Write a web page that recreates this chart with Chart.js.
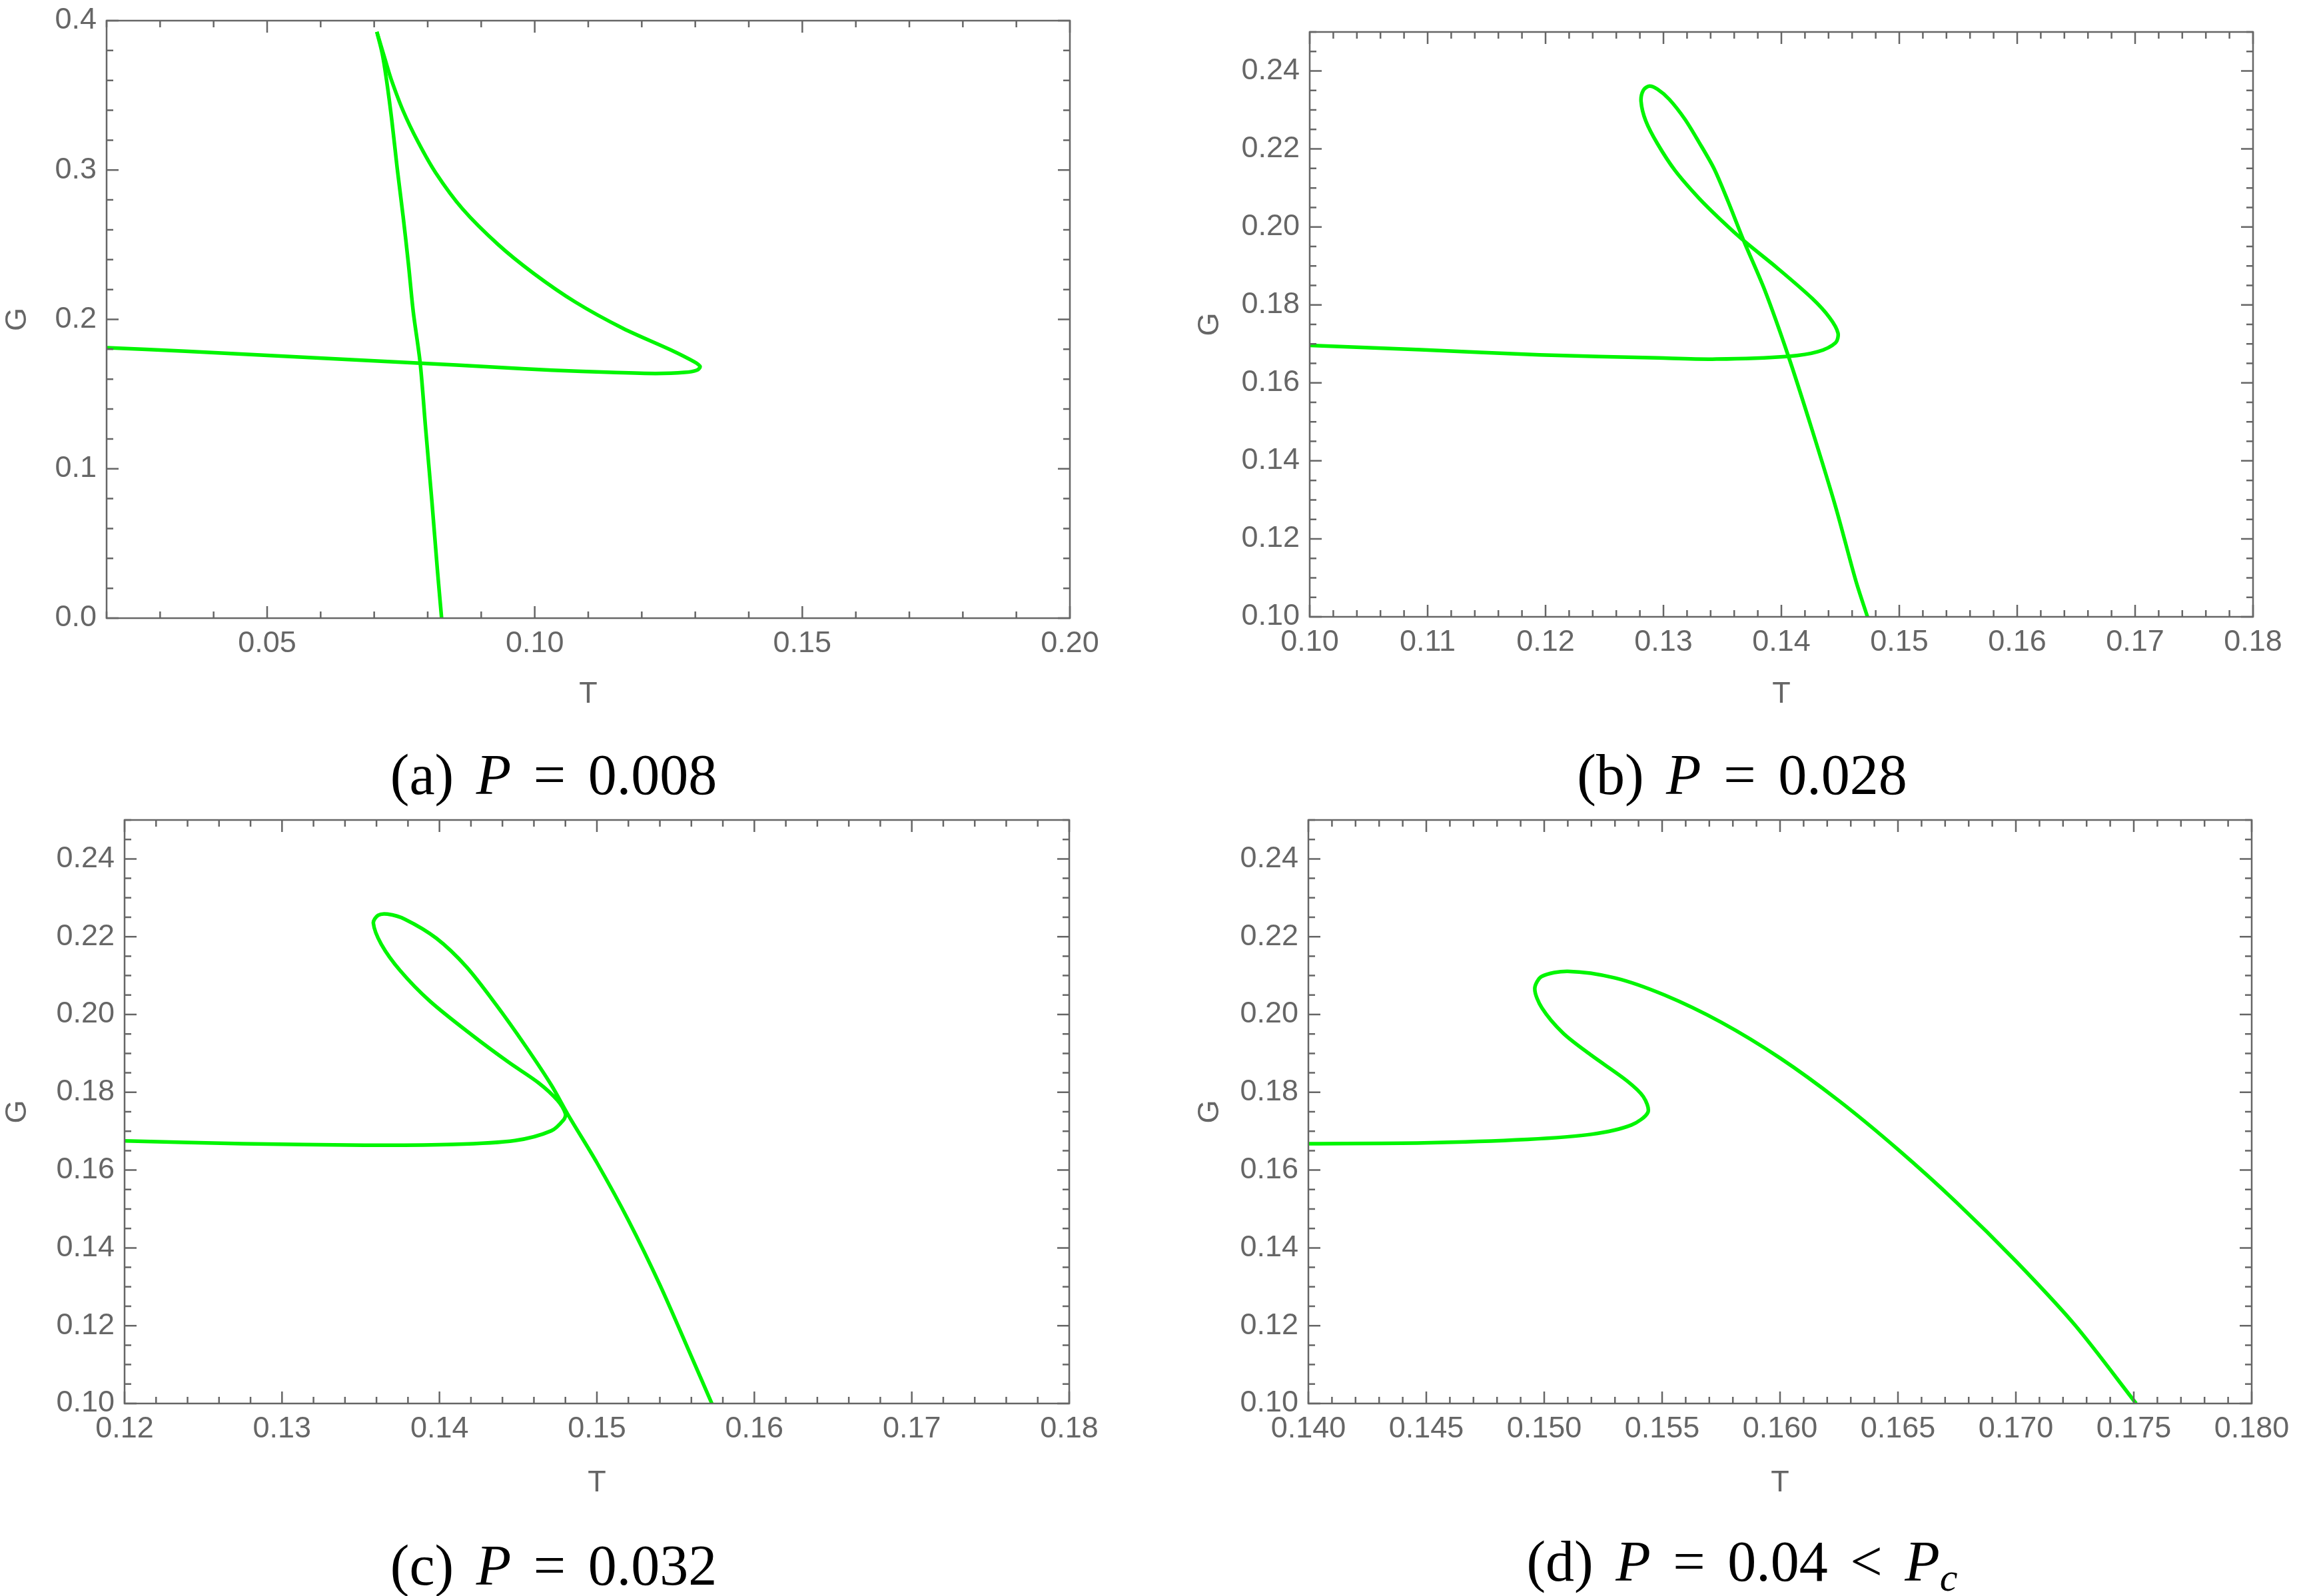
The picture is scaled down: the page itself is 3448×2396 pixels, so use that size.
<!DOCTYPE html>
<html>
<head>
<meta charset="utf-8">
<title>G vs T</title>
<script src="https://cdn.jsdelivr.net/npm/chart.js@4.4.1/dist/chart.umd.min.js"></script>
<style>
  html, body { margin: 0; padding: 0; background: #fff; }
  #page { position: relative; width: 3448px; height: 2396px; overflow: hidden; }
  #page canvas { position: absolute; }
  .cap {
    position: absolute;
    transform: translate(-50%, -50%);
    font-family: "Liberation Serif", "Times New Roman", serif;
    font-size: 86px;
    line-height: 1;
    white-space: nowrap;
    word-spacing: 12px;
    color: #000;
  }
  .cap sub { font-size: 0.7em; vertical-align: -0.25em; }
</style>
</head>
<body>
<div id="page">
  <canvas id="cA"></canvas>
  <canvas id="cB"></canvas>
  <canvas id="cC"></canvas>
  <canvas id="cD"></canvas>
  <div class="cap" style="left:831px;top:1163px">(a) <i>P</i> = 0.008</div>
  <div class="cap" style="left:2615px;top:1163px">(b) <i>P</i> = 0.028</div>
  <div class="cap" style="left:831px;top:2350px">(c) <i>P</i> = 0.032</div>
  <div class="cap" style="left:2615px;top:2350px">(d) <i>P</i> = 0.04 &lt; <i>P</i><sub><i>c</i></sub></div>
</div>
<script>
"use strict";

/* (a) P = 0.008 : horizontal branch + loop up to the cusp, then the steep branch */
var tA1 = [0.0200, 0.0347, 0.0506, 0.0664, 0.0786, 0.0921, 0.1032, 0.1143, 0.1226, 0.1280, 0.1303, 0.1309,
           0.1298, 0.1254, 0.1165, 0.1076, 0.0998, 0.0932, 0.0865, 0.0815, 0.0782, 0.0754, 0.0732, 0.0721,
           0.0705];
var gA1 = [0.1811, 0.1787, 0.1758, 0.1729, 0.1707, 0.1681, 0.1660, 0.1645, 0.1638, 0.1645, 0.1660, 0.1684,
           0.1716, 0.1796, 0.1940, 0.2116, 0.2308, 0.2500, 0.2740, 0.2981, 0.3188, 0.3397, 0.3605, 0.3733,
           0.3925];
var tA2 = [0.0705, 0.0715, 0.0723, 0.0733, 0.0743, 0.0754, 0.0764, 0.0773, 0.0786, 0.0796, 0.0808, 0.0818, 0.0826];
var gA2 = [0.3925, 0.3781, 0.3605, 0.3332, 0.3012, 0.2692, 0.2372, 0.2052, 0.1707, 0.1276, 0.0776, 0.0329, 0.0000];

/* (b) P = 0.028 */
var tB = [0.1000, 0.1094, 0.1195, 0.1295, 0.1345, 0.1406, 0.1431, 0.1446, 0.1448, 0.1441, 0.1426, 0.1396,
          0.1368, 0.1348, 0.1330, 0.1310, 0.1295, 0.1285, 0.1281, 0.1283, 0.1288, 0.1295, 0.1305, 0.1318,
          0.1330, 0.1343, 0.1355, 0.1368, 0.1386, 0.1406, 0.1426, 0.1446, 0.1463, 0.1473];
var gB = [0.1696, 0.1685, 0.1672, 0.1664, 0.1661, 0.1668, 0.1680, 0.1703, 0.1728, 0.1767, 0.1817, 0.1896,
          0.1965, 0.2020, 0.2074, 0.2144, 0.2213, 0.2272, 0.2322, 0.2351, 0.2361, 0.2353, 0.2327, 0.2277,
          0.2218, 0.2149, 0.2064, 0.1965, 0.1837, 0.1668, 0.1480, 0.1282, 0.1094, 0.1000];

/* (c) P = 0.032 */
var tC = [0.1200, 0.1275, 0.1352, 0.1409, 0.1448, 0.1471, 0.1479, 0.1480, 0.1475, 0.1463, 0.1444, 0.1421,
          0.1394, 0.1375, 0.1363, 0.1358, 0.1361, 0.1367, 0.1378, 0.1398, 0.1417, 0.1436, 0.1455, 0.1471,
          0.1482, 0.1500, 0.1520, 0.1540, 0.1560, 0.1573];
var gC = [0.1675, 0.1668, 0.1664, 0.1666, 0.1676, 0.1701, 0.1730, 0.1745, 0.1779, 0.1824, 0.1877, 0.1946,
          0.2034, 0.2113, 0.2181, 0.2235, 0.2255, 0.2258, 0.2245, 0.2196, 0.2123, 0.2025, 0.1917, 0.1819,
          0.1740, 0.1619, 0.1471, 0.1305, 0.1121, 0.1000];

/* (d) P = 0.04 < Pc */
var tD = [0.1400, 0.1449, 0.1493, 0.1520, 0.1537, 0.1544, 0.1542, 0.1535, 0.1520, 0.1508, 0.1499, 0.1496,
          0.1499, 0.1510, 0.1530, 0.1551, 0.1575, 0.1600, 0.1625, 0.1650, 0.1675, 0.1700, 0.1725, 0.1751];
var gD = [0.1668, 0.1670, 0.1679, 0.1692, 0.1716, 0.1749, 0.1789, 0.1830, 0.1895, 0.1952, 0.2017, 0.2066,
          0.2098, 0.2111, 0.2094, 0.2050, 0.1980, 0.1888, 0.1778, 0.1653, 0.1516, 0.1366, 0.1202, 0.1000];

/* tick labels */
var xTicksA = ['0.05', '0.10', '0.15', '0.20'];
var yTicksA = ['0.0', '0.1', '0.2', '0.3', '0.4'];
var xTicksB = ['0.10', '0.11', '0.12', '0.13', '0.14', '0.15', '0.16', '0.17', '0.18'];
var xTicksC = ['0.12', '0.13', '0.14', '0.15', '0.16', '0.17', '0.18'];
var xTicksD = ['0.140', '0.145', '0.150', '0.155', '0.160', '0.165', '0.170', '0.175', '0.180'];
var yTicksBCD = ['0.10', '0.12', '0.14', '0.16', '0.18', '0.20', '0.22', '0.24'];

var GREEN = '#00f500';
var FRAME = '#666666';
var TICKFONT = { family: "'Liberation Sans', Arial, sans-serif", size: 45 };

function pts(ts, gs) {
  return ts.map(function (t, i) { return { x: t, y: gs[i] }; });
}

function minorValues(min, max, step) {
  var out = [];
  for (var k = Math.ceil(min / step - 1e-6); k * step <= max + 1e-9; k++) out.push(k * step);
  return out;
}

/* Mathematica-style frame with inward major/minor ticks on all four sides */
var frameTicks = {
  id: 'frameTicks',
  afterDatasetsDraw: function (chart, args, o) {
    var ctx = chart.ctx, a = chart.chartArea;
    var sx = chart.scales.x, sy = chart.scales.y;
    ctx.save();
    ctx.strokeStyle = FRAME;
    ctx.lineWidth = 2.5;
    ctx.beginPath();
    function vt(v, len) {
      var p = sx.getPixelForValue(v);
      ctx.moveTo(p, a.bottom); ctx.lineTo(p, a.bottom - len);
      ctx.moveTo(p, a.top);    ctx.lineTo(p, a.top + len);
    }
    function ht(v, len) {
      var p = sy.getPixelForValue(v);
      ctx.moveTo(a.left, p);  ctx.lineTo(a.left + len, p);
      ctx.moveTo(a.right, p); ctx.lineTo(a.right - len, p);
    }
    minorValues(sx.min, sx.max, o.xMinor).forEach(function (v) { vt(v, 10); });
    minorValues(sy.min, sy.max, o.yMinor).forEach(function (v) { ht(v, 10); });
    sx.ticks.forEach(function (t) { vt(t.value, 18); });
    sy.ticks.forEach(function (t) { ht(t.value, 18); });
    ctx.stroke();
    ctx.strokeRect(a.left, a.top, a.right - a.left, a.bottom - a.top);
    ctx.restore();
  }
};

function axis(labels, min, max, fitProp, fitSize, title, pad) {
  var vals = labels.map(parseFloat);
  return {
    type: 'linear',
    min: min,
    max: max,
    grid: { display: false, drawTicks: false },
    border: { display: false },
    afterBuildTicks: function (s) { s.ticks = vals.map(function (v) { return { value: v }; }); },
    afterFit: function (s) {
      s[fitProp] = fitSize;
      /* labels may overhang the frame; keep the plot box where it is */
      s.paddingLeft = 0; s.paddingRight = 0; s.paddingTop = 0; s.paddingBottom = 0;
    },
    ticks: {
      autoSkip: false,
      maxRotation: 0,
      padding: pad,
      color: FRAME,
      font: TICKFONT,
      callback: function (v) { var i = vals.indexOf(v); return i < 0 ? '' : labels[i]; }
    },
    title: { display: true, text: title, color: FRAME, font: TICKFONT, padding: 0 }
  };
}

function panel(id, box, sets, xr, yr, xLabels, yLabels, xMinor, yMinor) {
  var cv = document.getElementById(id);
  cv.width = box.w; cv.height = box.h;
  cv.style.left = box.left + 'px'; cv.style.top = box.top + 'px';
  cv.style.width = box.w + 'px'; cv.style.height = box.h + 'px';
  return new Chart(cv, {
    type: 'scatter',
    data: {
      datasets: sets.map(function (d) {
        return {
          data: d,
          showLine: true,
          borderColor: GREEN,
          borderWidth: 5.5,
          pointRadius: 0,
          tension: 0.3,
          fill: false,
          clip: 0
        };
      })
    },
    options: {
      responsive: false,
      animation: false,
      devicePixelRatio: 1,
      layout: { padding: { top: box.padTop, right: box.padRight, bottom: 0, left: 0 } },
      plugins: {
        legend: { display: false },
        tooltip: { enabled: false },
        frameTicks: { xMinor: xMinor, yMinor: yMinor }
      },
      scales: {
        x: axis(xLabels, xr[0], xr[1], 'height', box.hx, 'T', 12),
        y: axis(yLabels, yr[0], yr[1], 'width', box.wy, 'G', 15)
      }
    },
    plugins: [frameTicks]
  });
}

panel('cA', { left: 0, top: 0, w: 1670, h: 1070, wy: 160, hx: 142, padTop: 31, padRight: 64 },
      [pts(tA1, gA1), pts(tA2, gA2)], [0.02, 0.20], [0, 0.4], xTicksA, yTicksA, 0.01, 0.02);

panel('cB', { left: 1790, top: 0, w: 1656, h: 1070, wy: 176, hx: 144, padTop: 48, padRight: 64 },
      [pts(tB, gB)], [0.10, 0.18], [0.10, 0.25], xTicksB, yTicksBCD, 0.002, 0.005);

panel('cC', { left: 0, top: 1200, w: 1670, h: 1054, wy: 187, hx: 147, padTop: 31, padRight: 65 },
      [pts(tC, gC)], [0.12, 0.18], [0.10, 0.25], xTicksC, yTicksBCD, 0.002, 0.005);

panel('cD', { left: 1790, top: 1200, w: 1656, h: 1054, wy: 174, hx: 147, padTop: 31, padRight: 66 },
      [pts(tD, gD)], [0.14, 0.18], [0.10, 0.25], xTicksD, yTicksBCD, 0.001, 0.005);
</script>
</body>
</html>
